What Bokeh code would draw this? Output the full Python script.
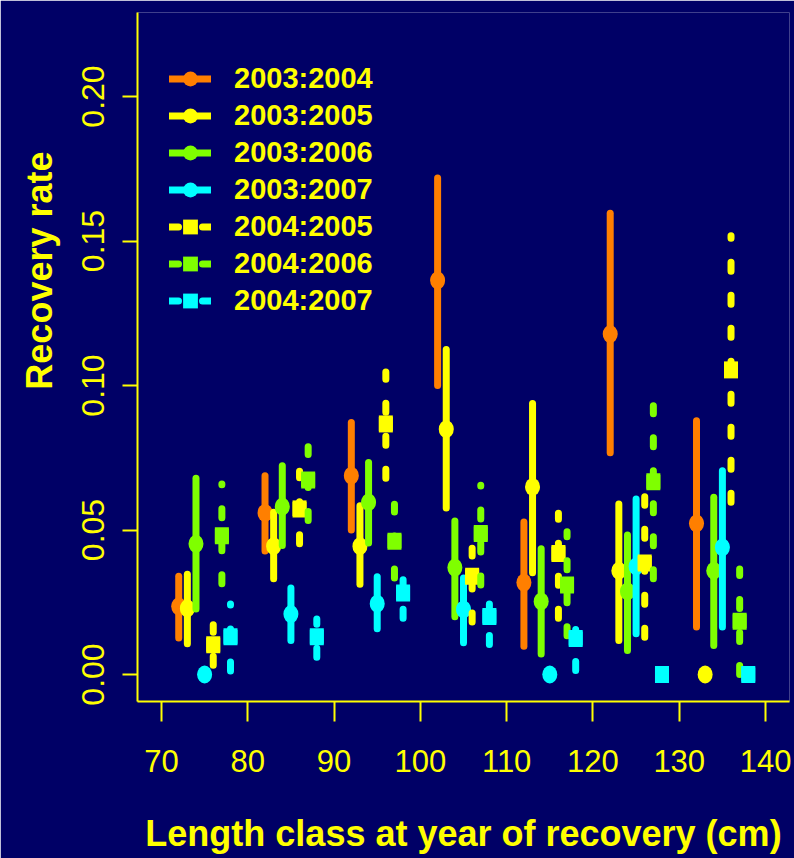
import numpy as np
from bokeh.plotting import figure
from bokeh.models import (ColumnDataSource, Legend, LegendItem, Title, FixedTicker,
                          NumeralTickFormatter, Range1d)
from bokeh.embed import file_html
from bokeh.resources import INLINE

NA = float("nan")

# ---------------- data ----------------
length_classes = [70, 80, 90, 100, 110, 120, 130]
x_ticks = [70, 80, 90, 100, 110, 120, 130, 140]
y_ticks = [0.0, 0.05, 0.10, 0.15, 0.20]

series_names = ["2003:2004", "2003:2005", "2003:2006", "2003:2007",
                "2004:2005", "2004:2006", "2004:2007"]
series_offsets = [2, 3, 4, 5, 6, 7, 8]
series_colors = ["#FF7F00", "#FFFF00", "#7FFF00", "#00FFFF",
                 "#FFFF00", "#7FFF00", "#00FFFF"]
series_dashed = [False, False, False, False, True, True, True]

rate_0304 = [0.0236, 0.0559, 0.0688, 0.1364, 0.0318, 0.1178, 0.0523]
lo_0304 = [0.0126, 0.0427, 0.0500, 0.1000, 0.0098, 0.0767, 0.0164]
hi_0304 = [0.0340, 0.0688, 0.0872, 0.1718, 0.0528, 0.1596, 0.0878]

rate_0305 = [0.0229, 0.0444, 0.0444, 0.0849, 0.0649, 0.0359, 0.0]
lo_0305 = [0.0106, 0.0331, 0.0312, 0.0576, 0.0352, 0.0118, NA]
hi_0305 = [0.0347, 0.0561, 0.0584, 0.1125, 0.0938, 0.0590, NA]

rate_0306 = [0.0452, 0.0581, 0.0596, 0.0370, 0.0253, 0.0288, 0.0359]
lo_0306 = [0.0227, 0.0446, 0.0455, 0.0200, 0.0071, 0.0083, 0.0100]
hi_0306 = [0.0679, 0.0722, 0.0734, 0.0531, 0.0435, 0.0483, 0.0613]

rate_0307 = [0.0, 0.0209, 0.0245, 0.0225, 0.0, 0.0374, 0.0440]
lo_0307 = [NA, 0.0118, 0.0158, 0.0110, NA, 0.0141, 0.0164]
hi_0307 = [NA, 0.0299, 0.0338, 0.0334, NA, 0.0607, 0.0705]

rate_0405 = [0.0103, 0.0573, 0.0867, 0.0340, 0.0419, 0.0386, 0.1054]
lo_0405 = [0.0032, 0.0452, 0.0679, 0.0182, 0.0195, 0.0129, 0.0596]
hi_0405 = [0.0172, 0.0703, 0.1047, 0.0437, 0.0558, 0.0615, 0.1518]

rate_0406 = [0.0480, 0.0673, 0.0461, 0.0488, 0.0310, 0.0667, 0.0184]
lo_0406 = [0.0314, 0.0533, 0.0334, 0.0310, 0.0134, 0.0331, 0.0000]
hi_0406 = [0.0659, 0.0788, 0.0589, 0.0655, 0.0494, 0.0930, 0.0365]

rate_0407 = [0.0131, 0.0131, 0.0282, 0.0201, 0.0125, 0.0, 0.0]
lo_0407 = [0.0012, 0.0060, 0.0195, 0.0104, 0.0014, NA, NA]
hi_0407 = [0.0244, 0.0192, 0.0328, 0.0244, 0.0156, NA, NA]

series_rates = [rate_0304, rate_0305, rate_0306, rate_0307, rate_0405, rate_0406, rate_0407]
series_lo = [lo_0304, lo_0305, lo_0306, lo_0307, lo_0405, lo_0406, lo_0407]
series_hi = [hi_0304, hi_0305, hi_0306, hi_0307, hi_0405, hi_0406, hi_0407]

# ---------------- style ----------------
BG = "#000066"
YEL = "#FFFF00"
FONT = "Liberation Sans"

p = figure(width=794, height=858, output_backend="svg", toolbar_location=None,
           x_range=Range1d(67.223, 142.776), y_range=Range1d(-0.009343, 0.22907),
           min_border_left=136, min_border_right=5, min_border_top=12, min_border_bottom=157,
           background_fill_color=BG, border_fill_color=BG)
p.outline_line_color = None
p.grid.visible = False

p.xaxis.ticker = FixedTicker(ticks=x_ticks, minor_ticks=[])
p.yaxis.ticker = FixedTicker(ticks=y_ticks, minor_ticks=[])
p.yaxis.formatter = NumeralTickFormatter(format="0.00")
for ax in (p.xaxis, p.yaxis):
    ax.axis_line_color = YEL
    ax.axis_line_width = 2
    ax.major_tick_line_color = YEL
    ax.major_tick_line_width = 2
    ax.major_tick_in = 0
    ax.minor_tick_line_color = None
    ax.major_label_text_color = YEL
    ax.major_label_text_font = FONT
p.xaxis.major_tick_out = 20
p.xaxis.major_label_standoff = 28
p.xaxis.major_label_text_font_size = "31px"
p.xaxis.axis_label = "Length class at year of recovery (cm)"
p.xaxis.axis_label_text_font = FONT
p.xaxis.axis_label_text_font_style = "bold"
p.xaxis.axis_label_text_font_size = "36px"
p.xaxis.axis_label_text_color = YEL
p.xaxis.axis_label_standoff = 38
p.yaxis.major_tick_out = 15
p.yaxis.major_label_standoff = 18
p.yaxis.major_label_text_font_size = "32px"
p.yaxis.major_label_orientation = "vertical"

items = []
for name, off, col, dashed, rates, lo, hi in zip(series_names, series_offsets, series_colors,
                                                 series_dashed, series_rates, series_lo, series_hi):
    xs = np.array(length_classes, dtype=float) + off
    src = ColumnDataSource(dict(x=xs, rate=np.array(rates, dtype=float),
                                lo=np.array(lo, dtype=float), hi=np.array(hi, dtype=float)))
    seg = p.segment(x0="x", y0="lo", x1="x", y1="hi", source=src, line_color=col,
                    line_width=7, line_cap="round",
                    line_dash="9 24" if dashed else "solid")
    marker = "square" if dashed else "circle"
    proxy = p.scatter(x="x", y="rate", source=src, marker=marker, size=14,
                      fill_color=col, line_color=None)
    if dashed:
        p.rect(x="x", y="rate", width=14, height=17, width_units="screen",
               height_units="screen", source=src, fill_color=col, line_color=None)
    else:
        p.ellipse(x="x", y="rate", width=15, height=18, width_units="screen",
                  height_units="screen", source=src, fill_color=col, line_color=None)
    items.append(LegendItem(label=name, renderers=[seg, proxy]))

legend = Legend(items=items, location=(32, 382), orientation="vertical",
                padding=0, margin=0, spacing=0,
                glyph_width=42, glyph_height=37, label_height=37, label_standoff=23,
                label_text_font=FONT, label_text_font_style="bold",
                label_text_font_size="29px", label_text_color=YEL,
                border_line_color=None, background_fill_alpha=0)
p.add_layout(legend)

ytitle = Title(text="Recovery rate", align="right", offset=139, vertical_align="top",
               text_font=FONT, text_font_style="bold", text_font_size="36px",
               text_color=YEL, standoff=36)
p.add_layout(ytitle, "left")

open("out.html", "w").write(file_html(p, INLINE))
